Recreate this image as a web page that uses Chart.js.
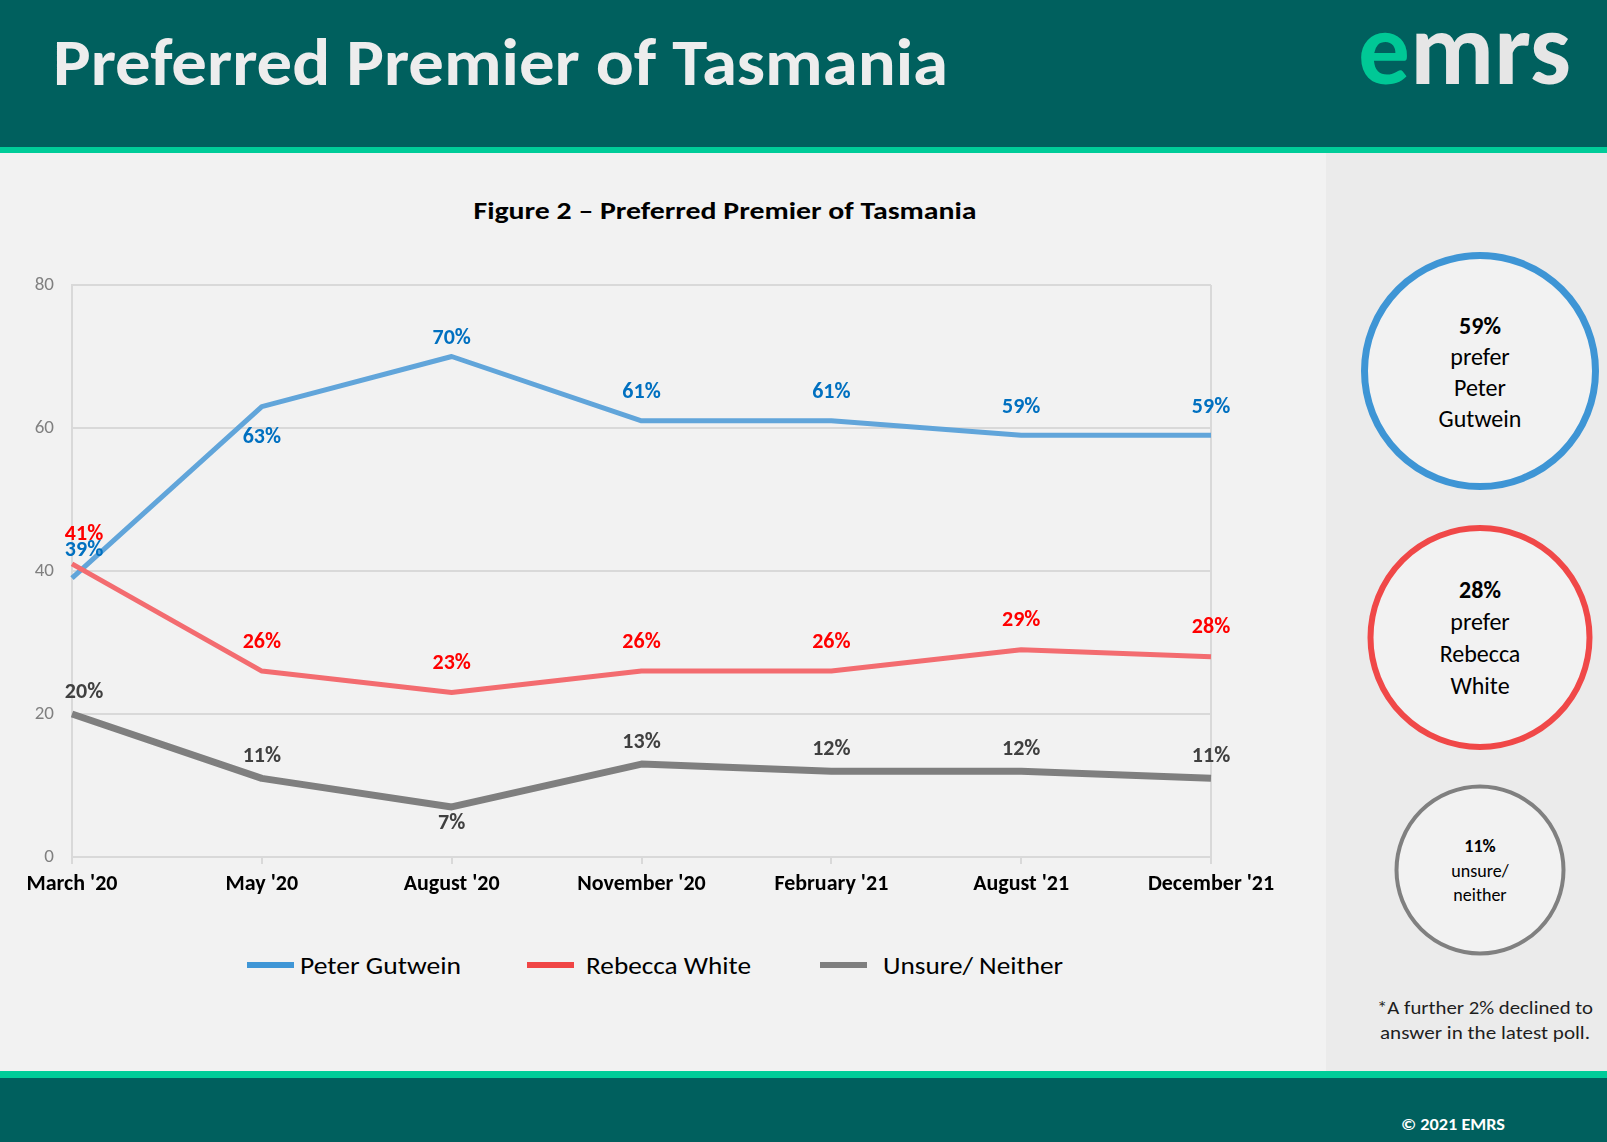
<!DOCTYPE html>
<html>
<head>
<meta charset="utf-8">
<title>Preferred Premier of Tasmania</title>
<script src="https://cdn.jsdelivr.net/npm/chart.js@4.4.1/dist/chart.umd.min.js"></script>
<style>
    body { margin: 0; background: #F2F2F2; }
    #page { position: relative; width: 1607px; height: 1142px; overflow: hidden; }
    #bg { position: absolute; left: 0; top: 0; }
    #bg text { font-family: Carlito, Lato, sans-serif; }
    #chart { position: absolute; left: 0; top: 230px; }
</style>
</head>
<body>
<div id="page">
    <svg id="bg" width="1607" height="1142" xmlns="http://www.w3.org/2000/svg">
        <!-- header / footer bands -->
        <rect x="0" y="0" width="1607" height="147" fill="#00605E"/>
        <rect x="0" y="147" width="1607" height="6" fill="#00CC99"/>
        <rect x="0" y="153" width="1326" height="918" fill="#F2F2F2"/>
        <rect x="1326" y="153" width="281" height="918" fill="#EBEBEB"/>
        <rect x="0" y="1071" width="1607" height="7" fill="#00CC99"/>
        <rect x="0" y="1078" width="1607" height="64" fill="#00605E"/>

        <text x="53" y="85" font-size="66" font-weight="bold" fill="#EDEDED"
              textLength="895" lengthAdjust="spacingAndGlyphs">Preferred Premier of Tasmania</text>
        <text x="1358" y="84" font-size="103" font-weight="bold" textLength="213"
              lengthAdjust="spacingAndGlyphs"><tspan fill="#00C896">e</tspan><tspan fill="#E6E6E6">mrs</tspan></text>

        <text x="725" y="219" font-size="25" font-weight="bold" fill="#000" text-anchor="middle"
              textLength="503" lengthAdjust="spacingAndGlyphs">Figure 2 – Preferred Premier of Tasmania</text>

        <g id="legend"></g>
        <g id="summary"></g>

        <text x="1485" y="1014" font-size="18" fill="#1E1E1E" text-anchor="middle"
              textLength="216" lengthAdjust="spacingAndGlyphs">*A further 2% declined to</text>
        <text x="1485" y="1039" font-size="18" fill="#1E1E1E" text-anchor="middle"
              textLength="210" lengthAdjust="spacingAndGlyphs">answer in the latest poll.</text>
        <text x="1453" y="1130" font-size="16" font-weight="bold" fill="#FFFFFF" text-anchor="middle"
              textLength="104" lengthAdjust="spacingAndGlyphs">© 2021 EMRS</text>
    </svg>
    <canvas id="chart" width="1326" height="700"></canvas>
</div>

<script>
// Poll waves
const categories = ["March '20", "May '20", "August '20", "November '20", "February '21", "August '21", "December '21"];

// Percent preferring each option
const gutwein = [39, 63, 70, 61, 61, 59, 59];
const white = [41, 26, 23, 26, 26, 29, 28];
const unsure = [20, 11, 7, 13, 12, 12, 11];

const seriesNames = ['Peter Gutwein', 'Rebecca White', 'Unsure/ Neither'];
const yTicks = [0, 20, 40, 60, 80];

// Where each value label sits relative to its point
const gutweinLabelPos = ['topRight', 'bottom', 'topNear', 'top', 'top', 'top', 'top'];
const whiteLabelPos = ['topRight', 'top', 'top', 'top', 'top', 'top', 'top'];
const unsureLabelPos = ['topRight', 'top', 'bottom', 'top', 'top', 'top', 'top'];

const FONT = 'Carlito, Lato, sans-serif';
const GRID = '#D9D9D9';

const COLORS = {
    blue: '#61A5DA',
    blueKey: '#3F96D6',
    blueText: '#0070C0',
    red: '#F36C70',
    redKey: '#F04545',
    redText: '#FF0000',
    gray: '#7F7F7F',
    grayText: '#404040'
};

Chart.defaults.font.family = FONT;

// Draw the % labels next to each point
const valueLabels = {
    id: 'valueLabels',
    afterDatasetsDraw(chart) {
        const ctx = chart.ctx;
        chart.data.datasets.forEach((ds, i) => {
            const meta = chart.getDatasetMeta(i);
            meta.data.forEach((pt, j) => {
                const pos = ds.labelPos[j];
                const dx = pos === 'topRight' ? 12 : 0;
                let dy = -ds.labelGap[0];
                if (pos === 'bottom') dy = ds.labelGap[1];
                if (pos === 'topNear') dy = -18;
                ctx.save();
                ctx.font = 'bold 22px ' + FONT;
                ctx.fillStyle = ds.labelColor;
                ctx.textAlign = 'center';
                ctx.textBaseline = 'middle';
                ctx.fillText(ds.data[j] + '%', pt.x + dx, pt.y + dy);
                ctx.restore();
            });
        });
    }
};

const chart = new Chart(document.getElementById('chart'), {
    type: 'line',
    data: {
        labels: categories,
        datasets: [
            {
                label: seriesNames[0],
                data: gutwein,
                borderColor: COLORS.blue,
                borderWidth: 5,
                order: 1,
                labelPos: gutweinLabelPos,
                labelColor: COLORS.blueText,
                labelGap: [28, 31]
            },
            {
                label: seriesNames[1],
                data: white,
                borderColor: COLORS.red,
                borderWidth: 5,
                order: 0,
                labelPos: whiteLabelPos,
                labelColor: COLORS.redText,
                labelGap: [29, 29]
            },
            {
                label: seriesNames[2],
                data: unsure,
                borderColor: COLORS.gray,
                borderWidth: 7,
                order: 2,
                labelPos: unsureLabelPos,
                labelColor: COLORS.grayText,
                labelGap: [22, 17]
            }
        ]
    },
    options: {
        responsive: false,
        animation: false,
        layout: { padding: { top: 55, right: 115, left: 0, bottom: 0 } },
        elements: {
            point: { radius: 0, hoverRadius: 0 },
            line: { tension: 0, borderJoinStyle: 'round', borderCapStyle: 'butt' }
        },
        plugins: {
            legend: { display: false },
            tooltip: { enabled: false }
        },
        scales: {
            x: {
                offset: false,
                afterFit: s => { s.height = 73; },
                grid: {
                    color: c => c.index === categories.length - 1 ? GRID : 'transparent',
                    lineWidth: 2,
                    drawTicks: true,
                    tickLength: 7,
                    tickColor: GRID
                },
                border: { display: true, color: GRID, width: 2 },
                ticks: {
                    color: '#000',
                    padding: 7,
                    maxRotation: 0,
                    autoSkip: false,
                    font: { size: 22, weight: 'bold' }
                }
            },
            y: {
                min: yTicks[0],
                max: yTicks[yTicks.length - 1],
                afterFit: s => { s.width = 72; },
                afterBuildTicks: s => { s.ticks = yTicks.map(v => ({ value: v })); },
                grid: { color: GRID, lineWidth: 2, drawTicks: false },
                border: { display: true, color: GRID, width: 2 },
                ticks: {
                    color: '#808080',
                    padding: 18,
                    font: { size: 19 }
                }
            }
        }
    },
    plugins: [valueLabels]
});

// Legend under the chart
const NS = 'http://www.w3.org/2000/svg';
function svgEl(tag, attrs, text) {
    const el = document.createElementNS(NS, tag);
    for (const k in attrs) el.setAttribute(k, attrs[k]);
    if (text !== undefined) el.textContent = text;
    return el;
}

const legendKeys = [COLORS.blueKey, COLORS.redKey, COLORS.gray];
const legendSwatchX = [247, 527, 820];
const legendTextX = [300, 586, 883];
const legendTextW = [161, 165, 180];
const legend = document.getElementById('legend');
seriesNames.forEach((name, i) => {
    legend.appendChild(svgEl('rect', { x: legendSwatchX[i], y: 962, width: 47, height: 6, fill: legendKeys[i] }));
    legend.appendChild(svgEl('text', {
        x: legendTextX[i], y: 974, 'font-size': 25, fill: '#000',
        textLength: legendTextW[i], lengthAdjust: 'spacingAndGlyphs'
    }, name));
});

// Latest-poll summary circles
const latest = gutwein.length - 1;
const summary = document.getElementById('summary');
const circles = [
    { cy: 371, r: 115.5, stroke: '#3E95D5', sw: 7, size: 24, lines: [gutwein[latest] + '%', 'prefer', 'Peter', 'Gutwein'], y0: 334, step: 31 },
    { cy: 637.5, r: 109.5, stroke: '#F04848', sw: 6, size: 24, lines: [white[latest] + '%', 'prefer', 'Rebecca', 'White'], y0: 598, step: 32 },
    { cy: 870, r: 83.5, stroke: '#808080', sw: 4, size: 18, lines: [unsure[latest] + '%', 'unsure/', 'neither'], y0: 852, step: 24.5 }
];
circles.forEach(c => {
    summary.appendChild(svgEl('circle', { cx: 1480, cy: c.cy, r: c.r, fill: '#F2F2F2', stroke: c.stroke, 'stroke-width': c.sw }));
    c.lines.forEach((t, k) => {
        summary.appendChild(svgEl('text', {
            x: 1480, y: c.y0 + k * c.step, 'font-size': c.size, 'text-anchor': 'middle',
            'font-weight': k === 0 ? 'bold' : 'normal', fill: '#000'
        }, t));
    });
});
</script>
</body>
</html>
